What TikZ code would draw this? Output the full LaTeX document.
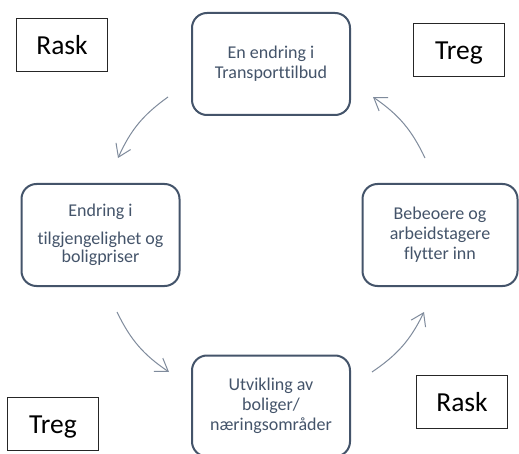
\documentclass[tikz,border=0pt]{standalone}
\usepackage{fontspec}
\setmainfont{Carlito}[Ligatures=CommonOff]
\usetikzlibrary{arrows.meta}
\definecolor{slate}{HTML}{44546A}
\definecolor{arrowgray}{HTML}{7F8B9C}
\begin{document}
\begin{tikzpicture}[x=1pt,y=1pt,
  stagebox/.style={draw=slate, line width=2pt, rounded corners=15pt, text=slate,
    minimum width=158pt, minimum height=102pt, inner sep=0pt, align=center,
    font=\fontsize{18}{20}\selectfont},
  speedbox/.style={draw=black!85, line width=0.9pt, text=black, inner sep=0pt,
    minimum width=91pt, minimum height=53pt, text height=18.5pt, text depth=0pt,
    font=\fontsize{27.5}{30}\selectfont},
  flow/.style={draw=arrowgray, line width=1pt, -{Straight Barb[length=12pt,width=16pt,line width=1pt]}, bend right=15}
]
\useasboundingbox (0,0) rectangle (519,-454);
\clip (0,0) rectangle (519,-454);
\fill[white] (0,0) rectangle (519,-454);

\node[stagebox] (top) at (271,-64) {En endring i\\Transporttilbud};
\node[stagebox] (left) at (100.5,-235) {Endring i\\[8pt]tilgjengelighet og\\[-2pt]boligpriser};
\node[stagebox, minimum width=155pt] (right) at (440,-235) {Bebeoere og\\arbeidstagere\\flytter inn};
\node[stagebox, minimum height=101pt] (bottom) at (271,-406) {Utvikling av\\boliger/\\næringsområder};

\node[speedbox] (rask1) at (62,-45) {Rask};
\node[speedbox] (treg1) at (459,-50) {Treg};
\node[speedbox] (treg2) at (53,-424) {Treg};
\node[speedbox] (rask2) at (462,-402) {Rask};

\coordinate (a1s) at (168,-97);
\coordinate (a1e) at (118,-158);
\coordinate (a2s) at (117,-312);
\coordinate (a2e) at (169,-372);
\coordinate (a3s) at (372,-372);
\coordinate (a3e) at (424,-312);
\coordinate (a4s) at (425,-158);
\coordinate (a4e) at (373,-97);

\draw[flow] (a1s) to (a1e);
\draw[flow] (a2s) to (a2e);
\draw[flow] (a3s) to (a3e);
\draw[flow] (a4s) to (a4e);
\end{tikzpicture}
\end{document}
